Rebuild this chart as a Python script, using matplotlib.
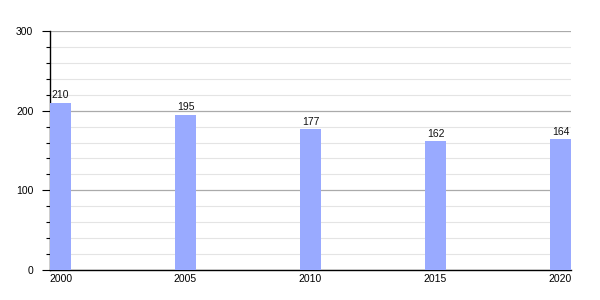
import matplotlib
matplotlib.use("Agg")
import matplotlib.pyplot as plt
from matplotlib.ticker import MultipleLocator

plt.rcParams['font.family'] = ['Liberation Sans', 'DejaVu Sans']

years = [2000, 2005, 2010, 2015, 2020]
values = [210, 195, 177, 162, 164]
tick_labels = ["2000", "2005", "2010", "2015", "2020"]

fig = plt.figure(figsize=(6, 3), dpi=100)
ax = fig.add_axes([50/600, 1-270/300, 521/600, 239/300])

w = 0.84
bars = ax.bar(years, values, width=w, align="edge", color="#99aaff", zorder=3)
for x, v in zip(years, values):
    ax.text(x + w/2, v + 3, str(v), ha="center", va="bottom", fontsize=7.5, color="#111111", zorder=4)

ax.set_xlim(2000, 2020 + w)
ax.set_ylim(0, 300)
ax.set_xticks([y + w/2 for y in years])
ax.set_xticklabels(tick_labels)
ax.yaxis.set_major_locator(MultipleLocator(100))
ax.yaxis.set_minor_locator(MultipleLocator(20))
ax.grid(axis="y", which="major", color="#aaaaaa", linewidth=0.9, zorder=0)
ax.grid(axis="y", which="minor", color="#e4e4e4", linewidth=0.8, zorder=0)
for s in ["top", "right"]:
    ax.spines[s].set_visible(False)
ax.spines["left"].set_linewidth(1)
ax.spines["bottom"].set_linewidth(1)
ax.tick_params(axis="y", which="major", length=6, width=0.8, labelsize=7.5, pad=6)
ax.tick_params(axis="y", which="minor", length=3, width=0.8)
ax.tick_params(axis="x", which="major", length=0, labelsize=7.5, pad=3)

fig.savefig("out.png", dpi=100)
